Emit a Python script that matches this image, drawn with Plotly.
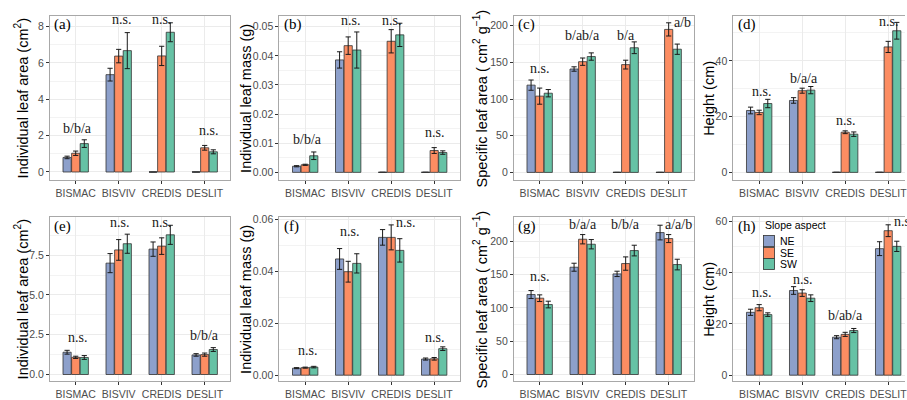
import plotly.graph_objects as go

# ---------------- data ----------------
categories = ["BISMAC", "BISVIV", "CREDIS", "DESLIT"]
aspects = ["NE", "SE", "SW"]
legend_title = "Slope aspect"

# (a) Individual leaf area (cm2), top row
a_NE = [0.80, 5.35, 0, 0]
a_NE_err = [0.07, 0.35, 0, 0]
a_SE = [1.03, 6.37, 6.38, 1.33]
a_SE_err = [0.12, 0.37, 0.53, 0.13]
a_SW = [1.56, 6.67, 7.68, 1.11]
a_SW_err = [0.21, 0.99, 0.52, 0.11]
a_labels = ["b/b/a", "n.s.", "n.s.", "n.s."]
a_label_y = [2.38, 8.38, 8.38, 2.27]

# (b) Individual leaf mass (g), top row
b_NE = [0.0021, 0.0386, 0, 0]
b_NE_err = [0.0002, 0.0028, 0, 0]
b_SE = [0.0026, 0.0435, 0.0450, 0.0075]
b_SE_err = [0.0002, 0.0030, 0.0040, 0.0010]
b_SW = [0.0057, 0.0420, 0.0472, 0.0068]
b_SW_err = [0.0013, 0.0062, 0.0040, 0.0006]
b_labels = ["b/b/a", "n.s.", "n.s.", "n.s."]
b_label_y = [0.01145, 0.0523, 0.0523, 0.0137]

# (c) Specific leaf area (cm2 g-1), top row
c_NE = [119, 141, 0, 0]
c_NE_err = [7, 3, 0, 0]
c_SE = [104, 151, 147, 195]
c_SE_err = [11, 5, 6, 9]
c_SW = [108, 158, 170, 168]
c_SW_err = [5, 5, 8, 7]
c_labels = ["n.s.", "b/ab/a", "b/a", "a/b"]
c_label_y = [141.5, 186.4, 186.4, 204]

# (d) Height (cm), top row
d_NE = [22.2, 25.8, 0, 0]
d_NE_err = [1.2, 1.0, 0, 0]
d_SE = [21.5, 29.3, 14.4, 45.0]
d_SE_err = [0.8, 0.9, 0.5, 2.0]
d_SW = [24.7, 29.5, 13.7, 50.8]
d_SW_err = [1.5, 1.3, 0.8, 3.0]
d_labels = ["n.s.", "b/a/a", "n.s.", "n.s."]
d_label_y = [29.0, 33.6, 18.7, 54.3]

# (e) Individual leaf area (cm2), bottom row
e_NE = [1.40, 7.00, 7.88, 1.23]
e_NE_err = [0.12, 0.60, 0.45, 0.08]
e_SE = [1.08, 7.83, 8.07, 1.25]
e_SE_err = [0.07, 0.65, 0.52, 0.10]
e_SW = [1.07, 8.22, 8.78, 1.57]
e_SW_err = [0.12, 0.60, 0.60, 0.12]
e_labels = ["n.s.", "n.s.", "n.s.", "b/b/a"]
e_label_y = [2.33, 9.58, 9.58, 2.48]

# (f) Individual leaf mass (g), bottom row
f_NE = [0.0027, 0.0447, 0.0530, 0.0062]
f_NE_err = [0.0002, 0.0040, 0.0030, 0.0004]
f_SE = [0.0029, 0.0398, 0.0530, 0.0063]
f_SE_err = [0.0002, 0.0040, 0.0048, 0.0005]
f_SW = [0.0031, 0.0430, 0.0480, 0.0102]
f_SW_err = [0.0003, 0.0037, 0.0045, 0.0007]
f_labels = ["n.s.", "n.s.", "n.s.", "n.s."]
f_label_y = [0.00964, 0.0553, 0.05876, 0.01462]

# (g) Specific leaf area (cm2 g-1), bottom row
g_NE = [120, 161, 151, 213]
g_NE_err = [6, 6, 4, 11]
g_SE = [114.5, 203, 166.5, 204]
g_SE_err = [5, 7, 10, 6]
g_SW = [105, 195.5, 186, 165]
g_SW_err = [5, 7, 8, 8]
g_labels = ["n.s.", "b/a/a", "b/b/a", "a/a/b"]
g_label_y = [146.8, 225.1, 225.1, 225.1]

# (h) Height (cm), bottom row
h_NE = [24.5, 33.0, 14.8, 49.3]
h_NE_err = [1.2, 1.5, 0.6, 2.7]
h_SE = [26.3, 32.0, 15.9, 56.3]
h_SE_err = [1.2, 1.3, 0.8, 2.3]
h_SW = [23.6, 30.0, 17.4, 50.2]
h_SW_err = [0.7, 1.3, 0.8, 2.0]
h_labels = ["n.s.", "n.s.", "b/ab/a", "n.s."]
h_label_y = [32.2, 37.4, 23.2, 59.8]

# ---------------- layout helpers ----------------
W, H = 907, 400
COLORS = {"NE": "#8DA0CB", "SE": "#FC8D62", "SW": "#66C2A5"}
TITLE_LEAF_AREA = "Individual leaf area (cm<sup>2</sup>)"
TITLE_LEAF_MASS = "Individual leaf mass (g)"
TITLE_SLA = "Specific leaf area ( cm<sup>2</sup> g<sup>\u22121</sup>)"
TITLE_HEIGHT = "Height (cm)"

panels = [
    dict(tag="(a)", title=TITLE_LEAF_AREA, vals=[a_NE, a_SE, a_SW], errs=[a_NE_err, a_SE_err, a_SW_err],
         labels=a_labels, label_y=a_label_y, label_dx=[0.05, 0.06, 0, 0.1],
         yr=[-0.45, 8.59], dtick=2, minor=1, fmt="d"),
    dict(tag="(b)", title=TITLE_LEAF_MASS, vals=[b_NE, b_SE, b_SW], errs=[b_NE_err, b_SE_err, b_SW_err],
         labels=b_labels, label_y=b_label_y, label_dx=[0.05, 0.05, 0, 0],
         yr=[-0.00268, 0.05378], dtick=0.01, minor=0.005, fmt=".2f"),
    dict(tag="(c)", title=TITLE_SLA, vals=[c_NE, c_SE, c_SW], errs=[c_NE_err, c_SE_err, c_SW_err],
         labels=c_labels, label_y=c_label_y, label_dx=[0, 0, 0, 0.33],
         yr=[-10.6, 213.7], dtick=50, minor=25, fmt="d"),
    dict(tag="(d)", title=TITLE_HEIGHT, vals=[d_NE, d_SE, d_SW], errs=[d_NE_err, d_SE_err, d_SW_err],
         labels=d_labels, label_y=d_label_y, label_dx=[0.05, 0.05, 0, 0],
         yr=[-2.8, 56.2], dtick=20, minor=10, fmt="d"),
    dict(tag="(e)", title=TITLE_LEAF_AREA, vals=[e_NE, e_SE, e_SW], errs=[e_NE_err, e_SE_err, e_SW_err],
         labels=e_labels, label_y=e_label_y, label_dx=[0.05, 0.03, 0, 0],
         yr=[-0.41, 9.91], dtick=2.5, minor=1.25, fmt=".1f"),
    dict(tag="(f)", title=TITLE_LEAF_MASS, vals=[f_NE, f_SE, f_SW], errs=[f_NE_err, f_SE_err, f_SW_err],
         labels=f_labels, label_y=f_label_y, label_dx=[0.05, 0.03, 0.34, 0],
         yr=[-0.00225, 0.0609], dtick=0.02, minor=0.01, fmt=".2f"),
    dict(tag="(g)", title=TITLE_SLA, vals=[g_NE, g_SE, g_SW], errs=[g_NE_err, g_SE_err, g_SW_err],
         labels=g_labels, label_y=g_label_y, label_dx=[0, 0, 0, 0.22],
         yr=[-9.8, 236.6], dtick=50, minor=25, fmt="d"),
    dict(tag="(h)", title=TITLE_HEIGHT, vals=[h_NE, h_SE, h_SW], errs=[h_NE_err, h_SE_err, h_SW_err],
         labels=h_labels, label_y=h_label_y, label_dx=[0.06, 0, 0, 0.36],
         yr=[-2.28, 61.7], dtick=20, minor=10, fmt="d"),
]

col_px = [(50, 231), (280, 461), (515, 696), (735, 916)]
title_px = [21.5, 246.5, 481.5, 710.5]
row_px = [(12, 180.7), (218.3, 386.7)]
UNITS = 4.2  # category range width (-0.6 .. 3.6)
BAR_HALF_PX = (0.6 / 3 * 0.95) * (181 / UNITS) / 2

SANS = "Liberation Sans, Arial, sans-serif"
SERIF = "Liberation Serif, Times New Roman, serif"
BORDER = "#A8A8A8"
GRID = "#EBEBEB"

fig = go.Figure()
annotations = []
layout_axes = {}

for i, p in enumerate(panels):
    n = i + 1
    r, c = divmod(i, 4)
    x0, x1 = col_px[c]
    y0, y1 = row_px[r]
    vis_x1 = min(x1, W)
    xrange_end = -0.6 + UNITS * (vis_x1 - x0) / (x1 - x0)
    xname = "xaxis" if n == 1 else f"xaxis{n}"
    yname = "yaxis" if n == 1 else f"yaxis{n}"
    xref = "x" if n == 1 else f"x{n}"
    yref = "y" if n == 1 else f"y{n}"

    for asp, vals, errs in zip(aspects, p["vals"], p["errs"]):
        fig.add_trace(go.Bar(
            x=categories, y=vals, name=asp, legendgroup=asp, offsetgroup=asp,
            showlegend=False,
            marker=dict(color=COLORS[asp], line=dict(color="#333333", width=0.8)),
            error_y=dict(type="data", array=errs, visible=True, color="#1a1a1a",
                         thickness=1, width=2.6),
            xaxis=xref, yaxis=yref, hoverinfo="x+y+name",
        ))
        zeros = [v if v == 0 else None for v in vals]
        if any(z is not None for z in zeros):
            # zero-height bars are drawn by ggplot as a flat outline; reproduce it
            fig.add_trace(go.Bar(
                x=categories, y=zeros, name=asp, legendgroup=asp, offsetgroup=asp,
                showlegend=False, marker=dict(color=COLORS[asp]),
                error_y=dict(type="data", array=[0] * len(zeros), visible=True,
                             color="#333333", thickness=1, width=BAR_HALF_PX),
                xaxis=xref, yaxis=yref, hoverinfo="skip",
            ))

    layout_axes[xname] = dict(
        domain=[x0 / W, vis_x1 / W], anchor=yref, type="category",
        categoryorder="array", categoryarray=categories,
        range=[-0.6, xrange_end], showgrid=True, gridcolor=GRID, gridwidth=1,
        ticks="outside", ticklen=3, tickwidth=0.8, tickcolor="#333333",
        tickfont=dict(family=SANS, size=10.5, color="#4D4D4D"),
        showline=True, linecolor=BORDER, linewidth=1, mirror=True,
        zeroline=False, fixedrange=True,
    )
    layout_axes[yname] = dict(
        domain=[1 - y1 / H, 1 - y0 / H], anchor=xref, range=p["yr"],
        tick0=0, dtick=p["dtick"], tickformat=p["fmt"],
        showgrid=True, gridcolor=GRID, gridwidth=1,
        minor=dict(dtick=p["minor"], tick0=0, showgrid=True, gridcolor="#F3F3F3",
                   gridwidth=0.6, ticks=""),
        ticks="outside", ticklen=3, tickwidth=0.8, tickcolor="#333333",
        tickfont=dict(family=SANS, size=10.5, color="#4D4D4D"),
        showline=True, linecolor=BORDER, linewidth=1, mirror=(c != 3),
        zeroline=False, fixedrange=True,
    )

    # panel tag
    annotations.append(dict(
        text=p["tag"], xref="paper", yref="paper", x=(x0 + 2.5) / W, y=1 - (y0 + 9.5) / H,
        xanchor="left", yanchor="middle", showarrow=False,
        font=dict(family=SERIF, size=15, color="black"),
    ))
    # y-axis title
    annotations.append(dict(
        text=p["title"], xref="paper", yref="paper", x=title_px[c] / W,
        y=1 - ((y0 + y1) / 2) / H, xanchor="center", yanchor="middle",
        textangle=-90, showarrow=False,
        font=dict(family=SANS, size=14.5, color="black"),
    ))
    # significance letters
    for k, (lab, ly) in enumerate(zip(p["labels"], p["label_y"])):
        annotations.append(dict(
            text=lab, xref=xref, yref=yref, x=k + p["label_dx"][k], y=ly,
            xanchor="center", yanchor="middle", showarrow=False,
            font=dict(family=SERIF, size=14, color="#1a1a1a"),
        ))

# compact ggplot-style legend inside panel (h)
LEG_X, LEG_TITLE_Y, LEG_KEY_Y0, LEG_KEY_STEP = 765, 227, 243.5, 11.8
annotations.append(dict(
    text=legend_title, xref="paper", yref="paper", x=LEG_X / W, y=1 - LEG_TITLE_Y / H,
    xanchor="left", yanchor="middle", showarrow=False,
    font=dict(family=SANS, size=10.5, color="black"),
))
for k, asp in enumerate(aspects):
    ky = 1 - (LEG_KEY_Y0 + k * LEG_KEY_STEP) / H
    annotations.append(dict(
        text=" ", xref="paper", yref="paper", x=(LEG_X + 6) / W, y=ky,
        xanchor="center", yanchor="middle", showarrow=False,
        width=10.5, height=10, bgcolor=COLORS[asp], bordercolor="#333333",
        borderwidth=0.8, borderpad=0, font=dict(size=8),
    ))
    annotations.append(dict(
        text=asp, xref="paper", yref="paper", x=(LEG_X + 15) / W, y=ky,
        xanchor="left", yanchor="middle", showarrow=False,
        font=dict(family=SANS, size=10.5, color="black"),
    ))

fig.update_layout(
    width=W, height=H, margin=dict(l=0, r=0, t=0, b=0, pad=0),
    paper_bgcolor="white", plot_bgcolor="white",
    barmode="group", bargap=0.4, bargroupgap=0.05,
    font=dict(family=SANS, size=11, color="black"),
    annotations=annotations, showlegend=False,
    **layout_axes,
)

fig.write_html("out.html")
